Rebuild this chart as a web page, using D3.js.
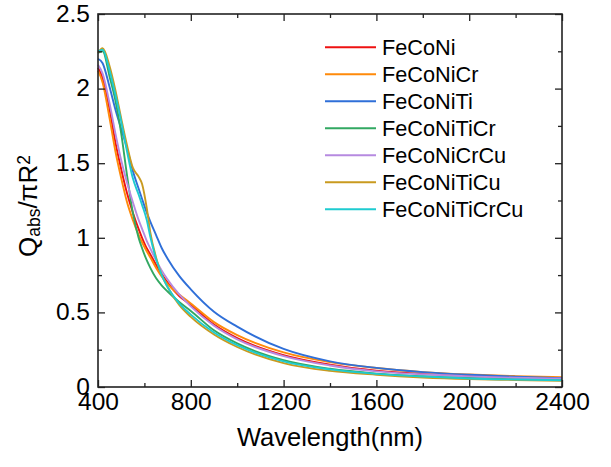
<!DOCTYPE html>
<html>
<head>
<meta charset="utf-8">
<script src="https://cdn.jsdelivr.net/npm/d3@7"></script>
<style>
  html, body { margin: 0; padding: 0; background: #fff; }
  svg { display: block; }
  text { font-family: "Liberation Sans", Arial, sans-serif; fill: #000; }
</style>
</head>
<body>
<svg id="chart" width="611" height="467"></svg>
<script>
// ---- data ----
const wavelengths = [400, 420, 450, 475, 500, 525, 550, 575, 590, 610, 625, 650, 675, 700, 750, 800, 900, 1000, 1200, 1400, 1600, 1800, 2000, 2200, 2400];
const seriesNames = ["FeCoNi", "FeCoNiCr", "FeCoNiTi", "FeCoNiTiCr", "FeCoNiCrCu", "FeCoNiTiCu", "FeCoNiTiCrCu"];
const FeCoNi       = [2.14, 2.07, 1.86, 1.64, 1.46, 1.30, 1.17, 1.06, 1.00, 0.93, 0.89, 0.82, 0.755, 0.70, 0.61, 0.55, 0.419, 0.328, 0.214, 0.150, 0.110, 0.088, 0.074, 0.065, 0.06];
const FeCoNiCr     = [2.12, 2.04, 1.80, 1.58, 1.40, 1.24, 1.12, 1.02, 0.97, 0.91, 0.87, 0.80, 0.74, 0.69, 0.62, 0.56, 0.435, 0.348, 0.232, 0.167, 0.127, 0.100, 0.084, 0.073, 0.065];
const FeCoNiTi     = [2.20, 2.17, 2.01, 1.86, 1.73, 1.60, 1.45, 1.33, 1.26, 1.17, 1.11, 1.02, 0.93, 0.86, 0.745, 0.655, 0.505, 0.405, 0.255, 0.172, 0.128, 0.100, 0.082, 0.069, 0.06];
const FeCoNiTiCr   = [2.24, 2.25, 2.08, 1.92, 1.70, 1.42, 1.17, 1.00, 0.93, 0.85, 0.80, 0.73, 0.68, 0.64, 0.57, 0.51, 0.380, 0.292, 0.180, 0.122, 0.090, 0.072, 0.060, 0.052, 0.047];
const FeCoNiCrCu   = [2.16, 2.10, 1.90, 1.70, 1.52, 1.37, 1.24, 1.12, 1.06, 0.98, 0.93, 0.85, 0.78, 0.72, 0.62, 0.54, 0.410, 0.319, 0.207, 0.144, 0.105, 0.085, 0.071, 0.062, 0.057];
const FeCoNiTiCu   = [2.24, 2.27, 2.15, 1.99, 1.80, 1.62, 1.47, 1.41, 1.36, 1.20, 1.04, 0.87, 0.75, 0.67, 0.55, 0.47, 0.352, 0.268, 0.160, 0.108, 0.082, 0.064, 0.053, 0.047, 0.042];
const FeCoNiTiCrCu = [2.25, 2.26, 2.12, 1.96, 1.78, 1.58, 1.40, 1.29, 1.22, 1.12, 1.01, 0.86, 0.75, 0.67, 0.56, 0.485, 0.365, 0.280, 0.172, 0.118, 0.088, 0.070, 0.057, 0.050, 0.045];
const seriesValues = [FeCoNi, FeCoNiCr, FeCoNiTi, FeCoNiTiCr, FeCoNiCrCu, FeCoNiTiCu, FeCoNiTiCrCu];
const xTickValues = [400, 800, 1200, 1600, 2000, 2400];
const xMinorValues = [600, 1000, 1400, 1800, 2200];
const yTickValues = [0, 0.5, 1, 1.5, 2, 2.5];
const yMinorValues = [0.25, 0.75, 1.25, 1.75, 2.25];

// ---- styles ----
const colors = ["#ee1111", "#ff8a0a", "#2f6fd8", "#32a862", "#b68ae0", "#c99a1f", "#1ecbd0"];
const L = 98, R = 562, T = 14, B = 387;
const FONT = '"Liberation Sans", Arial, sans-serif';

const svg = d3.select("#chart");
svg.append("rect").attr("width", 611).attr("height", 467).attr("fill", "#fff");

const x = d3.scaleLinear().domain([400, 2400]).range([L, R]);
const y = d3.scaleLinear().domain([0, 2.5]).range([B, T]);

// curves
const line = d3.line().x(d => x(d[0])).y(d => y(d[1])).curve(d3.curveMonotoneX);
const g = svg.append("g");
seriesValues.forEach((vals, i) => {
  g.append("path")
    .datum(wavelengths.map((w, j) => [w, vals[j]]))
    .attr("fill", "none")
    .attr("stroke", colors[i])
    .attr("stroke-width", 1.9)
    .attr("d", line);
});

// axes (ticks inward)
const axisColor = "#222";
function styleAxis(sel) {
  sel.select(".domain").remove();
  sel.selectAll(".tick line").attr("stroke", axisColor).attr("stroke-width", 1.3);
  sel.selectAll("text").remove();
}
svg.append("g").attr("transform", `translate(0,${B})`)
  .call(d3.axisBottom(x).tickValues(xTickValues).tickSize(-7)).call(styleAxis);
svg.append("g").attr("transform", `translate(0,${B})`)
  .call(d3.axisBottom(x).tickValues(xMinorValues).tickSize(-4)).call(styleAxis);
svg.append("g").attr("transform", `translate(0,${T})`)
  .call(d3.axisTop(x).tickValues(xTickValues).tickSize(-7)).call(styleAxis);
svg.append("g").attr("transform", `translate(0,${T})`)
  .call(d3.axisTop(x).tickValues(xMinorValues).tickSize(-4)).call(styleAxis);
svg.append("g").attr("transform", `translate(${L},0)`)
  .call(d3.axisLeft(y).tickValues(yTickValues).tickSize(-7)).call(styleAxis);
svg.append("g").attr("transform", `translate(${L},0)`)
  .call(d3.axisLeft(y).tickValues(yMinorValues).tickSize(-4)).call(styleAxis);
svg.append("g").attr("transform", `translate(${R},0)`)
  .call(d3.axisRight(y).tickValues(yTickValues).tickSize(-7)).call(styleAxis);
svg.append("g").attr("transform", `translate(${R},0)`)
  .call(d3.axisRight(y).tickValues(yMinorValues).tickSize(-4)).call(styleAxis);

// frame
svg.append("rect").attr("x", L).attr("y", T).attr("width", R - L).attr("height", B - T)
  .attr("fill", "none").attr("stroke", axisColor).attr("stroke-width", 1.6);

// tick labels
const xl = svg.append("g").attr("transform", `translate(0,${B + 6})`)
  .call(d3.axisBottom(x).tickValues(xTickValues).tickSize(0).tickPadding(0).tickFormat(d3.format("d")));
xl.select(".domain").remove();
xl.selectAll("text").attr("font-size", 24.5).attr("dy", "0.71em")
  .style("font-family", FONT).attr("fill", "#000");

const yl = svg.append("g").attr("transform", `translate(${L},0)`)
  .call(d3.axisLeft(y).tickValues(yTickValues).tickSize(0).tickPadding(8).tickFormat(d => d3.format("")(d)));
yl.select(".domain").remove();
yl.selectAll("text").attr("font-size", 24.5).attr("dy", "0.3em")
  .style("font-family", FONT).attr("fill", "#000");

// axis titles
svg.append("text").attr("x", (L + R) / 2).attr("y", 446).attr("text-anchor", "middle")
  .attr("font-size", 25.5).text("Wavelength(nm)");

const yt = svg.append("text").attr("transform", "translate(37,206) rotate(-90)")
  .attr("text-anchor", "middle").attr("font-size", 26);
yt.append("tspan").text("Q");
yt.append("tspan").attr("font-size", 17.5).attr("dy", 3).text("abs");
yt.append("tspan").attr("dy", -3).text("/πR");
yt.append("tspan").attr("font-size", 17.5).attr("dy", -7).text("2");

// legend
const lg = svg.append("g");
seriesNames.forEach((name, i) => {
  const ly = 47.3 + i * 27;
  lg.append("line").attr("x1", 325).attr("x2", 376).attr("y1", ly).attr("y2", ly)
    .attr("stroke", colors[i]).attr("stroke-width", 1.9);
  lg.append("text").attr("x", 382).attr("y", ly + 7.7).attr("font-size", 21.7).text(name);
});
</script>
</body>
</html>
